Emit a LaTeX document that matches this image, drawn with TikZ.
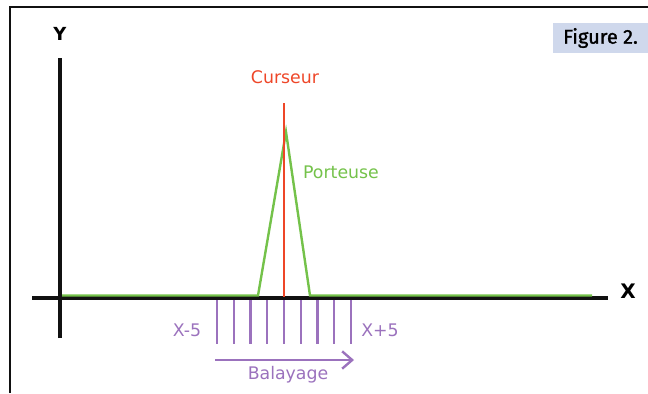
\documentclass[tikz,border=0pt]{standalone}
\usepackage{fontspec}
\setmainfont{DejaVu Sans}
\newfontfamily\figfont[FakeBold=1.2]{Fira Sans}
\usepackage{xcolor}
\usetikzlibrary{arrows.meta,positioning}
\definecolor{Ink}{HTML}{111111}
\definecolor{Cursor}{HTML}{EE4628}
\definecolor{Carrier}{HTML}{74C24A}
\definecolor{Sweep}{HTML}{9B72BD}
\definecolor{TagBlue}{HTML}{CFD8EC}

\begin{document}
\begin{tikzpicture}[x=0.75pt,y=-0.75pt,every node/.style={font=\fontsize{13}{15}\selectfont,inner sep=0pt}]
  \useasboundingbox (0,0) rectangle (648,393);
  \draw[line width=1.8pt,Ink] (10,393) -- (10,7) -- (648,7);
  \node[fill=TagBlue,minimum width=71pt,minimum height=23pt,font=\figfont\fontsize{15}{16}\selectfont] (fig) at (600.5,38) {Figure 2.};
  % axes
  \node[font=\bfseries\fontsize{13.5}{15}\selectfont] (ylab) at (60,34) {Y};
  \node[font=\bfseries\fontsize{15}{16}\selectfont] (xlab) at (628,291) {X};
  \coordinate (ytop) at (60,58);
  \coordinate (ybot) at (60,338);
  \coordinate (xleft) at (32,298);
  \coordinate (xright) at (608,298);
  \draw[line width=2.6pt,Ink] (ybot) -- (ytop);
  \draw[line width=2.6pt,Ink] (xleft) -- (xright);
  % carrier and cursor
  \draw[line width=1.8pt,Carrier] (62,295.5) -- (258,295.5) -- (286,132) -- (310,295.5) -- (592,295.5);
  \node[text=Cursor] (curs) at (285,77) {Curseur};
  \coordinate (ctop) at (284,103);
  \coordinate (cbot) at (284,297);
  \draw[line width=1.8pt,Cursor] (ctop) -- (cbot);
  \node[text=Carrier] (port) at (341,172) {Porteuse};
  % sweep
  \foreach \i in {0,...,8}
    \draw[line width=1.8pt,Sweep] ({217+16.75*\i},300) -- ({217+16.75*\i},344);
  \node[text=Sweep] (xmin) at (187,330) {X-5};
  \node[text=Sweep] (xmax) at (380,330) {X+5};
  \coordinate (sstart) at (215,360);
  \coordinate (send) at (354,360);
  \draw[line width=1.8pt,Sweep,-{Straight Barb[length=7.5pt,width=13pt,line width=1.8pt]}] (sstart) -- (send);
  \node[text=Sweep] (bal) at (288,375) {Balayage};
\end{tikzpicture}
\end{document}
